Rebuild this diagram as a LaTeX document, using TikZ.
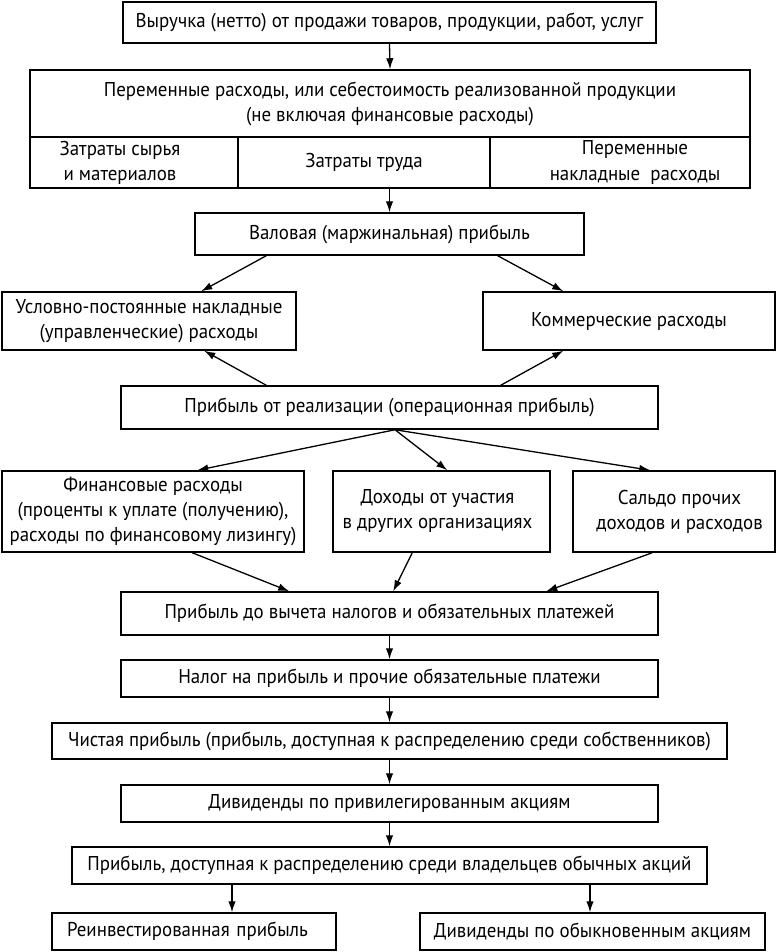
\documentclass[tikz,border=0pt]{standalone}
\usepackage{fontspec}
\setmainfont[FakeStretch=0.945]{PT Sans}
\usetikzlibrary{arrows.meta}
\begin{document}
\begin{tikzpicture}[x=1pt,y=-1pt,
  box/.style={draw,line width=1.5pt,inner sep=0pt,align=center,font=\fontsize{20}{25}\selectfont},
  arr/.style={line width=1.3pt,-{Latex[length=11pt,width=7.5pt]}}]
\useasboundingbox (0,0) rectangle (777,952);
\node[box,minimum width=533pt,minimum height=41pt] (b1) at (389.5,22.5) {Выручка (нетто) от продажи товаров, продукции, работ, услуг};
\node[box,minimum width=720pt,minimum height=67pt] (b2) at (390,103.5) {Переменные расходы, или себестоимость реализованной продукции\\(не включая финансовые расходы)};
\node[box,minimum width=208pt,minimum height=51pt] (c1) at (134,162.5) {\hspace*{-28pt}Затраты сырья\\\hspace*{-28pt}и материалов};
\node[box,minimum width=252pt,minimum height=51pt] (c2) at (364,162.5) {Затраты труда};
\node[box,minimum width=260pt,minimum height=51pt] (c3) at (620,162.5) {\hspace*{30pt}Переменные\\\hspace*{30pt}накладные\ \ расходы};
\node[box,minimum width=389pt,minimum height=42pt] (b3) at (389.5,234) {Валовая (маржинальная) прибыль};
\node[box,minimum width=294pt,minimum height=58pt] (b4) at (149,321) {Условно-постоянные накладные\\(управленческие) расходы};
\node[box,minimum width=292pt,minimum height=58pt] (b5) at (629,321) {Коммерческие расходы};
\node[box,minimum width=537pt,minimum height=43pt] (b6) at (389.5,407.5) {Прибыль от реализации (операционная прибыль)};
\node[box,minimum width=302pt,minimum height=81pt] (b7) at (153,511.5) {Финансовые расходы\\(проценты к уплате (получению),\\расходы по финансовому лизингу)};
\node[box,minimum width=217pt,minimum height=81pt] (b8) at (441.5,511.5) {\hspace*{-8pt}Доходы от участия\\\hspace*{-8pt}в других организациях};
\node[box,minimum width=202pt,minimum height=81pt] (b9) at (674,511.5) {\hspace*{11pt}Сальдо прочих\\\hspace*{11pt}доходов и расходов};
\node[box,minimum width=537pt,minimum height=43pt] (b10) at (389.5,613.5) {Прибыль до вычета налогов и обязательных платежей};
\node[box,minimum width=537pt,minimum height=37pt] (b11) at (389.5,678.5) {Налог на прибыль и прочие обязательные платежи};
\node[box,minimum width=675pt,minimum height=36pt] (b12) at (389.5,741) {Чистая прибыль (прибыль, доступная к распределению среди собственников)};
\node[box,minimum width=537pt,minimum height=37pt] (b13) at (389.5,803.5) {Дивиденды по привилегированным акциям};
\node[box,minimum width=635pt,minimum height=37pt] (b14) at (389.5,865.5) {Прибыль, доступная к распределению среди владельцев обычных акций};
\node[box,minimum width=284pt,minimum height=37pt,text width=254pt,align=left] (b15) at (194,931.5) {Реинвестированная прибыль};
\node[box,minimum width=345pt,minimum height=37pt] (b16) at (592.5,931.5) {Дивиденды по обыкновенным акциям};
% arrows
\draw[arr] (b1.south) -- (b2.north);
\draw[arr] (c2.south -| b3.north) -- (b3.north);
\draw[arr] ([xshift=72pt]b3.south west) -- ([xshift=200pt]b4.north west);
\draw[arr] ([xshift=-87pt]b3.south east) -- ([xshift=81pt]b5.north west);
\draw[arr] ([xshift=146pt]b6.north west) -- ([xshift=203pt]b4.south west);
\draw[arr] ([xshift=-158pt]b6.north east) -- ([xshift=81pt]b5.south west);
\draw[arr] ([xshift=5.5pt]b6.south) -- ([xshift=196pt]b7.north west);
\draw[arr] ([xshift=5.5pt]b6.south) -- ([xshift=115pt]b8.north west);
\draw[arr] ([xshift=5.5pt]b6.south) -- ([xshift=78pt]b9.north west);
\draw[arr] ([xshift=191pt]b7.south west) -- ([xshift=169pt]b10.north west);
\draw[arr] ([xshift=80pt]b8.south west) -- ([xshift=273pt]b10.north west);
\draw[arr] ([xshift=80pt]b9.south west) -- ([xshift=426pt]b10.north west);
\draw[arr] (b10.south) -- (b11.north);
\draw[arr] (b11.south) -- (b12.north);
\draw[arr] (b12.south) -- (b13.north);
\draw[arr] (b13.south) -- (b14.north);
\draw[arr] (b14.south -| b15.north) ++(38pt,0) coordinate (s15) (s15) -- (s15 |- b15.north);
\draw[arr] ([xshift=-2.5pt]b14.south -| b16.north) -- ([xshift=-2.5pt]b16.north);
\end{tikzpicture}
\end{document}
